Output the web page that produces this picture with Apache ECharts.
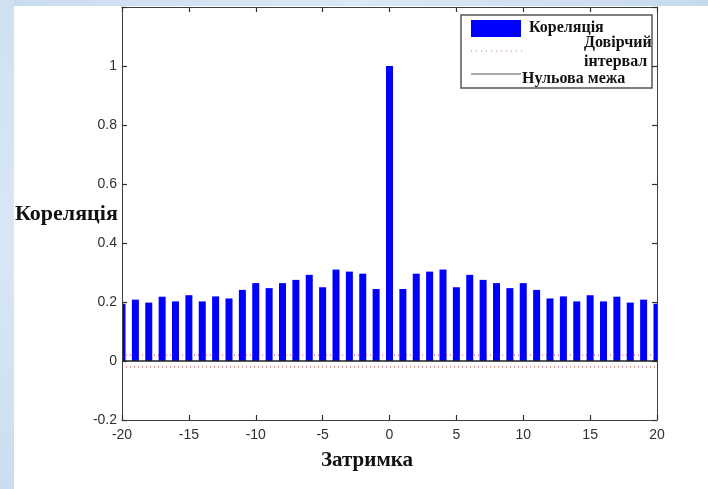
<!DOCTYPE html>
<html>
<head>
<meta charset="utf-8">
<script src="https://cdn.jsdelivr.net/npm/echarts@6/dist/echarts.min.js"></script>
<style>
  html, body { margin: 0; padding: 0; }
  #chart { width: 708px; height: 489px; }
</style>
</head>
<body>
<div id="chart"></div>
<script>
// lags and autocorrelation values
const lags = [-20, -19, -18, -17, -16, -15, -14, -13, -12, -11, -10, -9, -8, -7, -6, -5, -4, -3, -2, -1,
  0, 1, 2, 3, 4, 5, 6, 7, 8, 9, 10, 11, 12, 13, 14, 15, 16, 17, 18, 19, 20];
const corr = [0.194, 0.208, 0.198, 0.218, 0.202, 0.223, 0.202, 0.219, 0.212, 0.241, 0.264, 0.247, 0.264, 0.275, 0.292, 0.250, 0.310, 0.303, 0.296, 0.244,
  1.0, 0.244, 0.296, 0.303, 0.310, 0.250, 0.292, 0.275, 0.264, 0.247, 0.264, 0.241, 0.212, 0.219, 0.202, 0.223, 0.202, 0.218, 0.198, 0.208, 0.194];
const confBound = 0.02;
const zeroLevel = 0;

const xFirst = lags[0], xLast = lags[lags.length - 1];

const tickFont = { color: '#303030', fontSize: 14, fontFamily: 'Liberation Sans, Arial, sans-serif' };
const serifBold = 'Liberation Serif, Times New Roman, serif';

// axes sit above the cover strips that trim the edge bars
const axisCommon = {
  z: 70,
  axisLine: { show: true, onZero: false, lineStyle: { color: '#404040', width: 1 } },
  axisTick: { show: true, inside: true, length: 5, lineStyle: { color: '#303030', width: 1.2 } },
  splitLine: { show: false }
};

const chart = echarts.init(document.getElementById('chart'));
chart.setOption({
  animation: false,
  backgroundColor: '#ffffff',
  grid: { left: 122, right: 51, top: 7, bottom: 69 },
  xAxis: [
    Object.assign({
      type: 'value', min: -20, max: 20, interval: 5, position: 'bottom',
      axisLabel: Object.assign({ margin: 8 }, tickFont)
    }, axisCommon),
    Object.assign({
      type: 'value', min: -20, max: 20, interval: 5, position: 'top',
      axisLabel: { show: false }
    }, axisCommon)
  ],
  yAxis: [
    Object.assign({
      type: 'value', min: -0.2, max: 1.2, interval: 0.2, position: 'left',
      axisLabel: Object.assign({
        margin: 5,
        formatter: v => (v > 1.1 ? '' : String(Math.round(v * 10) / 10))
      }, tickFont)
    }, axisCommon),
    Object.assign({
      type: 'value', min: -0.2, max: 1.2, interval: 0.2, position: 'right',
      axisLabel: { show: false }
    }, axisCommon)
  ],
  series: [
    {
      name: 'Довірчий інтервал',
      type: 'line',
      data: [[xFirst, confBound], [xLast, confBound]],
      symbol: 'none',
      z: 1,
      lineStyle: { color: '#e03c3c', width: 1, type: [1, 3] }
    },
    {
      name: 'Довірчий інтервал',
      type: 'line',
      data: [[xFirst, -confBound], [xLast, -confBound]],
      symbol: 'none',
      z: 1,
      lineStyle: { color: '#e03c3c', width: 1, type: [1, 3] }
    },
    {
      name: 'Кореляція',
      type: 'bar',
      data: lags.map((l, i) => [l, corr[i]]),
      barWidth: 7,
      z: 3,
      itemStyle: { color: '#0000ff' }
    },
    {
      name: 'Нульова межа',
      type: 'line',
      data: [[xFirst, zeroLevel], [xLast, zeroLevel]],
      symbol: 'none',
      z: 4,
      lineStyle: { color: '#202020', width: 1.3 }
    }
  ],
  graphic: [
    // bluish page edges
    { type: 'rect', silent: true, z: -10, shape: { x: 0, y: 0, width: 708, height: 6 },
      style: { fill: { type: 'linear', x: 0, y: 0, x2: 1, y2: 0,
        colorStops: [{ offset: 0, color: '#c9dcef' }, { offset: 0.5, color: '#dbe8f5' }, { offset: 1, color: '#c6daee' }] } } },
    { type: 'rect', silent: true, z: -10, shape: { x: 0, y: 0, width: 14, height: 489 },
      style: { fill: { type: 'linear', x: 0, y: 0, x2: 0, y2: 1,
        colorStops: [{ offset: 0, color: '#cfe0f1' }, { offset: 0.5, color: '#d9e7f5' }, { offset: 1, color: '#cbddef' }] } } },
    // hide the halves of the edge bars that spill outside the axes box
    { type: 'rect', silent: true, z: 50, shape: { x: 112, y: 100, width: 10, height: 270 },
      style: { fill: '#ffffff' } },
    { type: 'rect', silent: true, z: 50, shape: { x: 657.5, y: 100, width: 10, height: 270 },
      style: { fill: '#ffffff' } },
    // axis names
    { type: 'text', silent: true, z: 60, left: 15, top: 203,
      style: { text: 'Кореляція', font: 'bold 22px ' + serifBold, fill: '#111' } },
    { type: 'text', silent: true, z: 60, left: 321, top: 450,
      style: { text: 'Затримка', font: 'bold 21px ' + serifBold, fill: '#111' } },
    // legend box
    { type: 'group', z: 100, children: [
      { type: 'rect', shape: { x: 461, y: 15, width: 191, height: 73 },
        style: { fill: '#ffffff', stroke: '#555555', lineWidth: 1.5 } },
      { type: 'rect', shape: { x: 471, y: 20, width: 50, height: 17 },
        style: { fill: '#0000ff' } },
      { type: 'text', x: 529, y: 20,
        style: { text: 'Кореляція', font: 'bold 16px ' + serifBold, fill: '#111' } },
      { type: 'line', shape: { x1: 471, y1: 51, x2: 522, y2: 51 },
        style: { stroke: '#e07a7a', lineWidth: 1, lineDash: [1, 4] } },
      { type: 'text', x: 584, y: 35,
        style: { text: 'Довірчий', font: 'bold 16px ' + serifBold, fill: '#111' } },
      { type: 'text', x: 584, y: 54,
        style: { text: 'інтервал', font: 'bold 16px ' + serifBold, fill: '#111' } },
      { type: 'line', shape: { x1: 471, y1: 74, x2: 521, y2: 74 },
        style: { stroke: '#555555', lineWidth: 1.2 } },
      { type: 'text', x: 522, y: 71,
        style: { text: 'Нульова межа', font: 'bold 16px ' + serifBold, fill: '#111' } }
    ] }
  ]
});
</script>
</body>
</html>
